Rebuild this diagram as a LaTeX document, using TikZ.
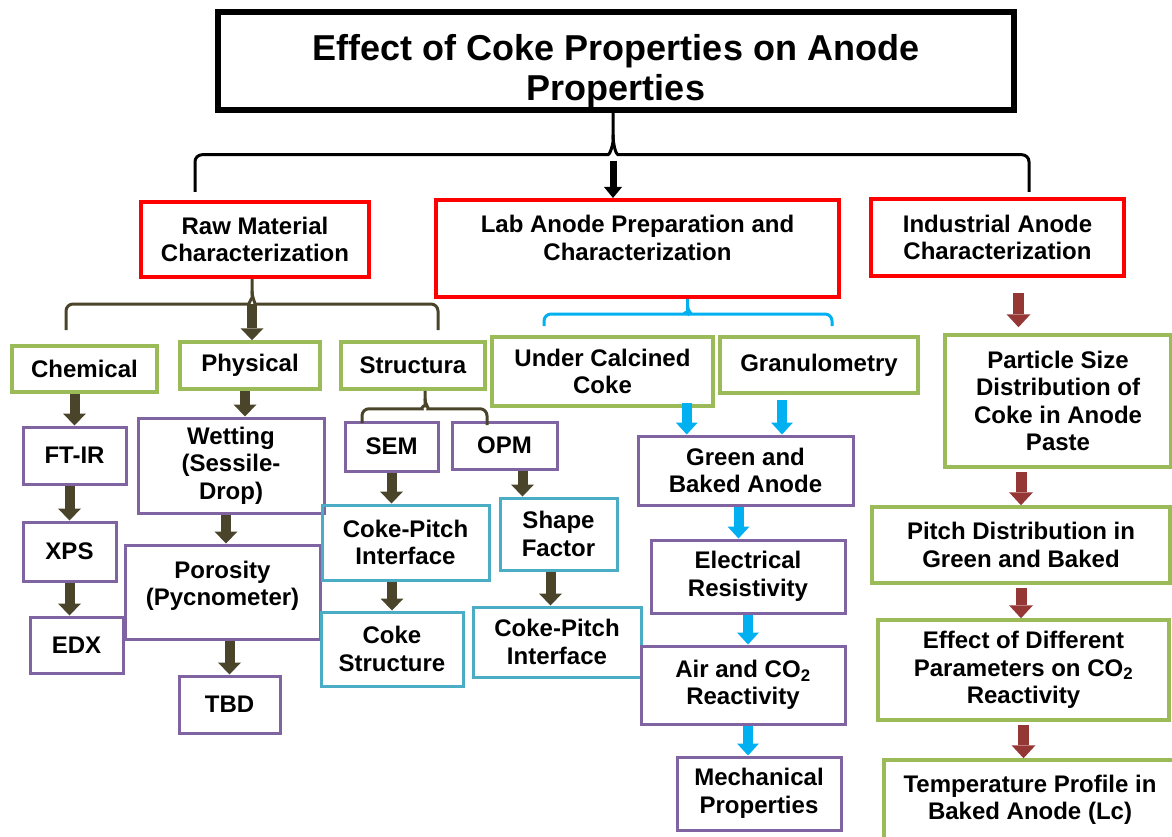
\documentclass[tikz,border=0pt]{standalone}
\usepackage{fontspec}
\setmainfont{Liberation Sans}
\usetikzlibrary{arrows.meta,calc}

\definecolor{cRed}{HTML}{FF0000}
\definecolor{cGreen}{HTML}{9BBB59}
\definecolor{cPurple}{HTML}{8064A2}
\definecolor{cCyan}{HTML}{4BACC6}
\definecolor{cBlue}{HTML}{00B0F0}
\definecolor{cOlive}{HTML}{4A452A}
\definecolor{cBrown}{HTML}{953735}

\begin{document}
\begin{tikzpicture}[x=1pt,y=-1pt,
  box/.style={draw, line width=3pt, align=center, inner sep=0pt,
    font=\bfseries\fontsize{24}{27.5}\selectfont},
  sz/.style 2 args={minimum width=#1pt, minimum height=#2pt},
  titlebox/.style={box, line width=5.5pt, font=\bfseries\fontsize{36}{40}\selectfont},
  redbox/.style={box, draw=cRed, line width=4pt},
  grnbox/.style={box, draw=cGreen, line width=3.5pt},
  purbox/.style={box, draw=cPurple},
  cyanbox/.style={box, draw=cCyan},
  brace/.style={line width=3pt, rounded corners=7pt},
  karr/.style={draw=black, line width=7pt, -{Triangle[width=18pt,length=11pt,line width=0pt]}},
  oarr/.style={draw=cOlive, line width=10pt, -{Triangle[width=23pt,length=12pt,line width=0pt]}},
  barr/.style={draw=cBlue, line width=10pt, -{Triangle[width=22pt,length=12pt,line width=0pt]}},
  rarr/.style={draw=cBrown, line width=11pt, -{Triangle[width=24pt,length=13pt,line width=0pt]}}]

\clip (0,0) rectangle (1172,837);

% top level
\node[titlebox, sz={796}{98}] (title) at (616,61)
  {\rule{0pt}{46pt}Effect of Coke Properties on Anode\\Properties};
\node[redbox, sz={228}{75}] (raw) at (255,239.5) {Raw Material\\Characterization};
\node[redbox, sz={403}{97}] (lab) at (637.5,248.5) {Lab Anode Preparation and\\Characterization\\[-6pt]\mbox{}};
\node[redbox, sz={253}{77}] (ind) at (997.5,237.5) {Industrial Anode\\Characterization};

% raw material branch
\node[grnbox, sz={145}{46}] (chem) at (84.5,369) {Chemical};
\node[grnbox, sz={140}{47}] (phys) at (250,365.5) {Physical};
\node[grnbox, sz={144}{47}] (struc) at (413,365.5) {Structura};
\node[purbox, sz={103}{57}] (ftir) at (74.5,455.5) {FT-IR};
\node[purbox, sz={93}{59}] (xps) at (69.5,551.5) {XPS};
\node[purbox, sz={93}{56}] (edx) at (76.5,645) {EDX};
\node[purbox, sz={186}{95}] (wet) at (231,465.5) {Wetting\\(Sessile-\\Drop)};
\node[purbox, sz={195}{94}] (por) at (222.5,592) {Porosity\\(Pycnometer)\\[-10pt]\mbox{}};
\node[purbox, sz={101}{57}] (tbd) at (229.5,704.5) {TBD};
\node[purbox, sz={93}{49}] (sem) at (391.5,446.5) {SEM};
\node[purbox, sz={105}{47}] (opm) at (504.5,445.5) {OPM};
\node[cyanbox, sz={167}{75}] (cpi) at (405.5,542.5) {Coke-Pitch\\Interface};
\node[cyanbox, sz={142}{74}] (cstr) at (392,649) {Coke\\Structure};
\node[cyanbox, sz={117}{72}] (shape) at (558.5,534) {Shape\\Factor};
\node[cyanbox, sz={168}{70}] (cpib) at (557,642) {Coke-Pitch\\Interface};

% lab anode branch
\node[grnbox, sz={221}{69}] (ucc) at (602.5,371.5) {Under Calcined\\Coke};
\node[grnbox, sz={198}{56}] (gran) at (819,365) {Granulometry};
\node[purbox, sz={215}{69}] (gba) at (745.5,470.5) {Green and\\Baked Anode};
\node[purbox, sz={194}{73}] (elec) at (748,576.5) {Electrical\\Resistivity};
\node[purbox, sz={204}{78}] (air) at (743,685) {Air and CO\textsubscript{2}\\Reactivity};
\node[purbox, sz={164}{73}] (mech) at (759,793.5) {Mechanical\\Properties};

% industrial branch
\node[grnbox, sz={226}{132}] (psd) at (1058,401) {Particle Size\\Distribution of\\Coke in Anode\\Paste};
\node[grnbox, sz={298}{76}] (pitch) at (1021,545) {Pitch Distribution in\\Green and Baked};
\node[grnbox, sz={291}{100}] (eff) at (1023.5,670) {Effect of Different\\Parameters on CO\textsubscript{2}\\Reactivity};
\node[grnbox, sz={292}{80}] (temp) at (1030,800) {Temperature Profile in\\Baked Anode (Lc)};

% braces
\coordinate (tl) at (195,192);
\coordinate (tr) at (1029,192);
\coordinate (tc) at ($(title.south)+(-3,0)$);
\draw[brace] (tl) |- ($(tc)+(-12,42)$) to[out=0,in=-90] ($(tc)+(0,22)$) -- (tc);
\draw[brace] (tr) |- ($(tc)+(12,42)$) to[out=180,in=-90] ($(tc)+(0,22)$);
\draw[karr] ($(tc)+(0,48)$) -- (tc |- lab.north);

\coordinate (rl) at (66,330);
\coordinate (rr) at (438,330);
\coordinate (rc) at ($(raw.south)+(-3,0)$);
\draw[brace, draw=cOlive] (rl) |- ($(rc)+(-10,25)$) to[out=0,in=-90] ($(rc)+(0,12)$) -- (rc);
\draw[brace, draw=cOlive] (rr) |- ($(rc)+(10,25)$) to[out=180,in=-90] ($(rc)+(0,12)$);
\draw[oarr] ($(rc)+(0,25)$) -- (rc |- phys.north);

\coordinate (ll) at (544,326);
\coordinate (lr) at (832,326);
\coordinate (lc) at ($(lab.south)+(50,0)$);
\draw[brace, draw=cBlue] (ll) |- ($(lc)+(-10,15)$) to[out=0,in=-90] ($(lc)+(0,7)$) -- (lc);
\draw[brace, draw=cBlue] (lr) |- ($(lc)+(10,15)$) to[out=180,in=-90] ($(lc)+(0,7)$);

\coordinate (sl) at (362,423);
\coordinate (sr) at (487,425);
\coordinate (sc) at ($(struc.south)+(12,0)$);
\draw[brace, draw=cOlive] (sl) |- ($(sc)+(-10,18)$) to[out=0,in=-90] ($(sc)+(0,8)$) -- (sc);
\draw[brace, draw=cOlive] (sr) |- ($(sc)+(10,18)$) to[out=180,in=-90] ($(sc)+(0,8)$);

% arrows
\draw[oarr] (chem.south -| ftir) -- (ftir.north);
\draw[oarr] (ftir.south -| xps) -- (xps.north);
\draw[oarr] (xps.south) -- (xps.south |- edx.north);
\draw[oarr] ($(phys.south)+(-5,0)$) coordinate (o0) -- (o0 |- wet.north);
\draw[oarr] ($(wet.south)+(-5,0)$) coordinate (o3) -- (o3 |- por.north);
\draw[oarr] (por.south -| tbd) -- (tbd.north);
\draw[oarr] (sem.south) -- (sem.south |- cpi.north);
\draw[oarr] (cpi.south -| cstr) -- (cstr.north);
\draw[oarr] ($(opm.south)+(18,0)$) coordinate (o1) -- (o1 |- shape.north);
\draw[oarr] ($(shape.south)+(-8,0)$) coordinate (o2) -- (o2 |- cpib.north);

\draw[barr] ($(ucc.south east)+(-28,-5)$) coordinate (b1) -- (b1 |- gba.north);
\draw[barr] ($(gran.south)+(-37,5)$) coordinate (b2) -- (b2 |- gba.north);
\draw[barr] ($(gba.south)+(-7,0)$) coordinate (b3) -- (b3 |- elec.north);
\draw[barr] (elec.south) -- (elec.south |- air.north);
\draw[barr] ($(air.south)+(5,0)$) coordinate (b4) -- (b4 |- mech.north);

\draw[rarr, shorten <=15pt, shorten >=6pt] ($(ind.south)+(21,0)$) coordinate (r1) -- (r1 |- psd.north);
\draw[rarr, shorten <=3pt] (psd.south -| pitch) -- (pitch.north);
\draw[rarr, shorten <=3pt] (pitch.south) -- (pitch.south |- eff.north);
\draw[rarr, shorten <=3pt] (eff.south) -- (eff.south |- temp.north);

\end{tikzpicture}
\end{document}
